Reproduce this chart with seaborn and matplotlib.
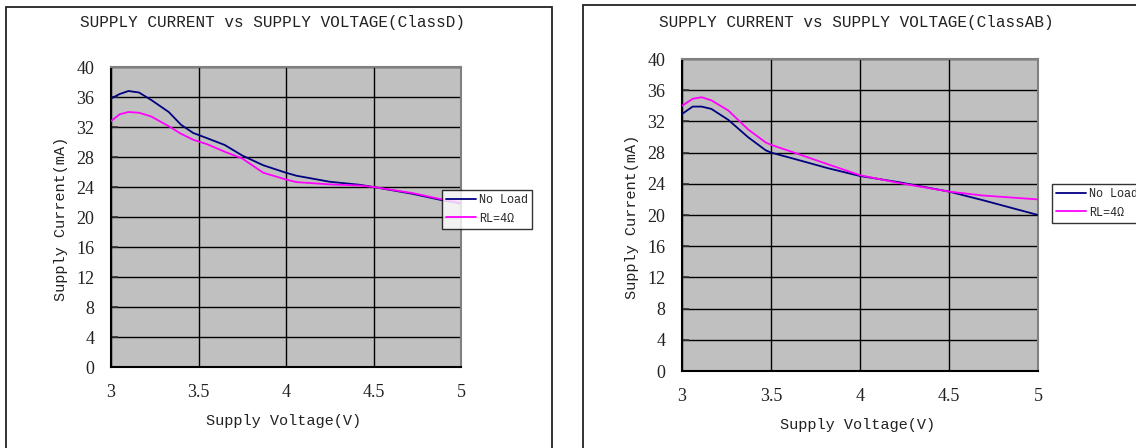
import matplotlib
matplotlib.use("Agg")
import matplotlib.pyplot as plt
import seaborn as sns
import pandas as pd
from matplotlib.patches import Rectangle

# ---- data ----
x_d = [3.0, 3.05, 3.1, 3.16, 3.23, 3.33, 3.4, 3.47, 3.55, 3.65, 3.75, 3.87, 4.0, 4.06, 4.25, 4.42, 4.5, 4.72, 4.88, 5.0]
noload_d = [35.8, 36.4, 36.8, 36.6, 35.6, 34.0, 32.3, 31.2, 30.5, 29.6, 28.2, 26.9, 25.9, 25.5, 24.7, 24.3, 24.0, 23.1, 22.3, 21.8]
rl4_d = [32.8, 33.7, 34.0, 33.9, 33.4, 32.1, 31.1, 30.3, 29.7, 28.7, 27.8, 25.9, 25.0, 24.65, 24.35, 24.2, 24.0, 23.2, 22.4, 21.9]

x_ab = [3.0, 3.06, 3.11, 3.165, 3.26, 3.37, 3.47, 3.5, 3.63, 3.82, 4.0, 4.22, 4.5, 4.69, 5.0]
noload_ab = [32.95, 33.9, 33.9, 33.6, 32.2, 30.0, 28.3, 28.0, 27.2, 26.0, 25.0, 24.2, 23.0, 21.9, 20.0]
rl4_ab = [34.0, 34.9, 35.1, 34.7, 33.4, 31.0, 29.3, 29.0, 28.0, 26.5, 25.1, 24.1, 23.0, 22.5, 22.0]

series_labels = ["No Load", "RL=4\u03a9"]
series_colors = ["#000080", "#FF00FF"]
titles = ["SUPPLY CURRENT vs SUPPLY VOLTAGE(ClassD)", "SUPPLY CURRENT vs SUPPLY VOLTAGE(ClassAB)"]
xlabel = "Supply Voltage(V)"
ylabel = "Supply Current(mA)"
xticks = [3, 3.5, 4, 4.5, 5]
xticklabels = ["3", "3.5", "4", "4.5", "5"]
yticks = list(range(0, 41, 4))

sns.set_theme(style="white")
plt.rcParams['font.family'] = ['Liberation Mono', 'DejaVu Sans']

W, H = 1136, 448
fig = plt.figure(figsize=(W / 100, H / 100), dpi=100)
fig.patch.set_facecolor("white")

def fx(px):
    return px / W

def fy(py):
    return 1 - py / H

# outer panel frames
fig.patches.append(Rectangle((fx(6), fy(452)), fx(552 - 6), (452 - 7) / H, transform=fig.transFigure,
                             fill=False, edgecolor="#222222", linewidth=1.3))
fig.patches.append(Rectangle((fx(583), fy(452)), fx(1145 - 583), (452 - 5) / H, transform=fig.transFigure,
                             fill=False, edgecolor="#222222", linewidth=1.3))

panels = [
    dict(box=(111, 67, 461, 367), x=x_d, a=noload_d, b=rl4_d, title_xy=(273, 23), xl_xy=(284, 421), yl_xy=(61, 219),
         leg=(442, 190)),
    dict(box=(682, 59, 1038, 371), x=x_ab, a=noload_ab, b=rl4_ab, title_xy=(856, 23), xl_xy=(858, 425), yl_xy=(632, 217),
         leg=(1052, 184)),
]

tick_font = {"family": ["Liberation Serif", "DejaVu Serif"], "size": 13}

for i, p in enumerate(panels):
    x0, y0, x1, y1 = p["box"]
    ax = fig.add_axes([fx(x0), fy(y1), fx(x1 - x0), (y1 - y0) / H])
    ax.set_facecolor("#C0C0C0")
    df = pd.DataFrame({
        "V": list(p["x"]) * 2,
        "I": list(p["a"]) + list(p["b"]),
        "s": [series_labels[0]] * len(p["x"]) + [series_labels[1]] * len(p["x"]),
    })
    sns.lineplot(data=df, x="V", y="I", hue="s", palette=dict(zip(series_labels, series_colors)),
                 linewidth=1.3, ax=ax, legend=False, zorder=3)
    ax.set_xlim(3, 5)
    ax.set_ylim(0, 40)
    ax.set_xticks(xticks)
    ax.set_xticklabels(xticklabels, fontdict=tick_font)
    ax.set_yticks(yticks)
    ax.set_yticklabels([str(v) for v in yticks], fontdict=tick_font)
    ax.set_xlabel("")
    ax.set_ylabel("")
    ax.grid(True, color="black", linewidth=1.0)
    ax.set_axisbelow(True)
    ax.tick_params(axis="x", length=0, pad=12, colors="#222222")
    ax.tick_params(axis="y", direction="in", length=5, width=1.2, color="#333333", pad=12,
                   labelcolor="#222222", left=True)
    for side in ["left", "bottom"]:
        ax.spines[side].set_color("black")
        ax.spines[side].set_linewidth(1.5)
    for side in ["top", "right"]:
        ax.spines[side].set_color("#808080")
        ax.spines[side].set_linewidth(1.5)

    handles = [plt.Line2D([], [], color=c, linewidth=1.3) for c in series_colors]
    lx, ly = p["leg"]
    leg = ax.legend(handles, series_labels, loc="upper left", bbox_to_anchor=(fx(lx), fy(ly)),
                    bbox_transform=fig.transFigure, frameon=True, fancybox=False, fontsize=8.5,
                    handlelength=2.5, handletextpad=0.3, borderpad=0.35, labelspacing=0.55,
                    borderaxespad=0)
    leg.get_frame().set_edgecolor("black")
    leg.get_frame().set_linewidth(1.0)
    leg.get_frame().set_facecolor("white")
    leg.set_zorder(10)

    tx, ty = p["title_xy"]
    fig.text(fx(tx), fy(ty), titles[i], ha="center", va="center", fontsize=11.5, color="#222222")
    xx, xy = p["xl_xy"]
    fig.text(fx(xx), fy(xy), xlabel, ha="center", va="center", fontsize=11, color="#222222")
    yx, yy = p["yl_xy"]
    fig.text(fx(yx), fy(yy), ylabel, ha="center", va="center", rotation=90, fontsize=11, color="#222222")

fig.savefig("out.png", dpi=100)
